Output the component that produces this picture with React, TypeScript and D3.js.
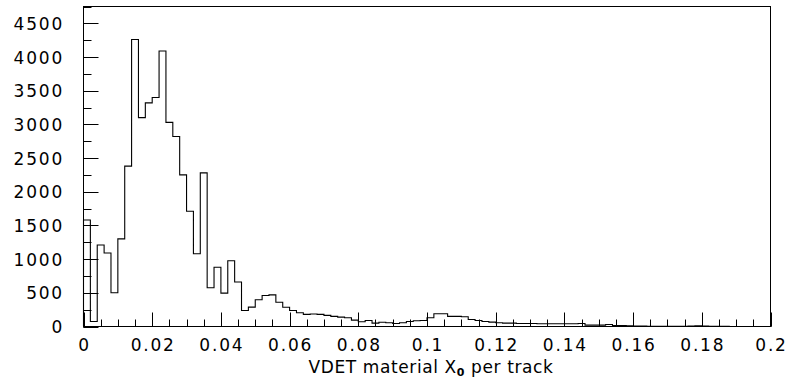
import React from "react";
import * as d3 from "d3";

const binWidth = 0.002;
const binStart = 0;
const counts: number[] = [
  1580, 75, 1210, 1090, 500, 1300, 2380, 4260, 3100, 3320,
  3400, 4090, 3030, 2820, 2250, 1710, 1080, 2280, 575, 880,
  495, 975, 660, 238, 287, 396, 460, 470, 361, 285,
  238, 203, 180, 185, 180, 165, 150, 139, 129, 95,
  70, 89, 50, 64, 55, 45, 55, 75, 85, 89,
  130, 190, 190, 150, 150, 145, 105, 90, 75, 65,
  55, 50, 50, 45, 45, 45, 40, 40, 40, 40,
  40, 40, 45, 20, 20, 20, 30, 15, 15, 12,
  5, 5, 3, 3, 3, 3, 2, 2, 5, 10,
  8, 3, 2, 2, 1, 1, 0, 0, 0, 0,
];
const xMajorTicks = [0, 0.02, 0.04, 0.06, 0.08, 0.1, 0.12, 0.14, 0.16, 0.18, 0.2];
const xTickLabels = ["0", "0.02", "0.04", "0.06", "0.08", "0.1", "0.12", "0.14", "0.16", "0.18", "0.2"];
const yMajorTicks = [0, 500, 1000, 1500, 2000, 2500, 3000, 3500, 4000, 4500];
const yTickLabels = ["0", "500", "1000", "1500", "2000", "2500", "3000", "3500", "4000", "4500"];
const xDomain: [number, number] = [0, 0.2];
const yDomain: [number, number] = [0, 4750];
const xMinorStep = 0.005;
const yMinorStep = 250;

const W = 791;
const H = 385;
const L = 83.5;
const R = 770.5;
const T = 6.5;
const B = 326.5;
const font = "'DejaVu Sans', sans-serif";

export default function App() {
  const x = d3.scaleLinear().domain(xDomain).range([L, R]);
  const y = d3.scaleLinear().domain(yDomain).range([B, T]);

  const pts: [number, number][] = [[binStart, 0]];
  counts.forEach((c, i) => {
    const lo = binStart + i * binWidth;
    const hi = lo + binWidth;
    pts.push([lo, c]);
    pts.push([hi, c]);
  });
  pts.push([binStart + counts.length * binWidth, 0]);
  const line = d3
    .line<[number, number]>()
    .x((d) => x(d[0]))
    .y((d) => y(d[1]));

  const xMinor = d3.range(0, Math.round((xDomain[1] - xDomain[0]) / xMinorStep) + 1).map((i) => xDomain[0] + i * xMinorStep);
  const yMinor = d3.range(0, Math.floor(yDomain[1] / yMinorStep) + 1).map((i) => i * yMinorStep);

  return (
    <svg
      width={W}
      height={H}
      style={{ position: "absolute", left: 0, top: 0, background: "#fff" }}
    >
      <rect x={0} y={0} width={W} height={H} fill="#fff" />
      <rect x={L} y={T} width={R - L} height={B - T} fill="none" stroke="#000" strokeWidth={1} />
      {/* x minor ticks */}
      {xMinor.map((v, i) => (
        <line key={"xm" + i} x1={Math.round(x(v)) + 0.5} x2={Math.round(x(v)) + 0.5} y1={B} y2={B - 7} stroke="#000" />
      ))}
      {xMajorTicks.map((v, i) => (
        <line key={"xM" + i} x1={Math.round(x(v)) + 0.5} x2={Math.round(x(v)) + 0.5} y1={B} y2={B - 14} stroke="#000" />
      ))}
      {yMinor.map((v, i) => (
        <line key={"ym" + i} x1={L} x2={L + 8} y1={Math.round(y(v)) + 0.5} y2={Math.round(y(v)) + 0.5} stroke="#000" />
      ))}
      {yMajorTicks.map((v, i) => (
        <line key={"yM" + i} x1={L} x2={L + 15} y1={Math.round(y(v)) + 0.5} y2={Math.round(y(v)) + 0.5} stroke="#000" />
      ))}
      <path d={line(pts) || ""} fill="none" stroke="#000" strokeWidth={1.1} />
      {yMajorTicks.map((v, i) => (
        <text
          key={"yl" + i}
          x={64}
          y={y(v) + 6.5}
          textAnchor="end"
          fontFamily={font}
          fontSize={17}
          letterSpacing={1.8}
          fill="#000"
        >
          {yTickLabels[i]}
        </text>
      ))}
      {xMajorTicks.map((v, i) => (
        <text
          key={"xl" + i}
          x={x(v) + 1}
          y={351}
          textAnchor="middle"
          fontFamily={font}
          fontSize={17}
          letterSpacing={1.8}
          fill="#000"
        >
          {xTickLabels[i]}
        </text>
      ))}
      <text x={431} y={373} textAnchor="middle" fontFamily={font} fontSize={17} letterSpacing={0.6} fill="#000">
        VDET material X
        <tspan fontSize={11} dy={3} fontWeight="bold">0</tspan>
        <tspan dy={-3}> per track</tspan>
      </text>
    </svg>
  );
}
